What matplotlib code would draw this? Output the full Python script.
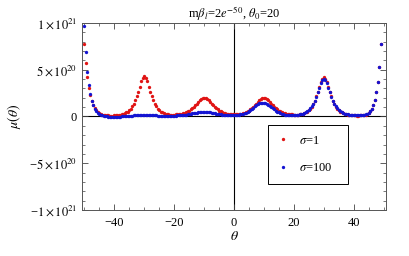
import numpy as np
import matplotlib
matplotlib.use('Agg')
import matplotlib.pyplot as plt
from matplotlib.ticker import FuncFormatter, MultipleLocator

# theta grid, step 0.5 from -50 to 50
theta = np.arange(-50, 50.5, 0.5)

# mu(theta) in units of 1e20
mu_sigma1 = [
    7.8, 5.7, 4.2, 3.05, 2.25, 1.65, 1.2, 0.88, 0.65, 0.48,
    0.36, 0.27, 0.21, 0.17, 0.14, 0.12, 0.11, 0.1, 0.1, 0.1,
    0.12, 0.13, 0.15, 0.17, 0.2, 0.24, 0.29, 0.35, 0.43, 0.53,
    0.67, 0.85, 1.08, 1.37, 1.72, 2.17, 2.67, 3.2, 3.75, 4.15,
    4.3, 4.15, 3.75, 3.2, 2.67, 2.17, 1.72, 1.37, 1.08, 0.85,
    0.67, 0.53, 0.43, 0.36, 0.3, 0.26, 0.23, 0.21, 0.2, 0.2,
    0.21, 0.22, 0.24, 0.26, 0.29, 0.32, 0.36, 0.41, 0.47, 0.55,
    0.64, 0.75, 0.88, 1.03, 1.2, 1.38, 1.57, 1.74, 1.87, 1.96,
    2.0, 1.96, 1.87, 1.74, 1.57, 1.38, 1.2, 1.03, 0.88, 0.75,
    0.64, 0.55, 0.47, 0.41, 0.36, 0.32, 0.29, 0.27, 0.25, 0.24,
    0.24, 0.24, 0.25, 0.27, 0.29, 0.32, 0.36, 0.41, 0.47, 0.55,
    0.64, 0.75, 0.88, 1.03, 1.2, 1.38, 1.57, 1.74, 1.87, 1.96,
    2.0, 1.96, 1.87, 1.74, 1.57, 1.38, 1.2, 1.03, 0.88, 0.75,
    0.64, 0.55, 0.47, 0.41, 0.36, 0.32, 0.29, 0.26, 0.24, 0.22,
    0.21, 0.2, 0.2, 0.21, 0.23, 0.26, 0.3, 0.36, 0.43, 0.53,
    0.66, 0.84, 1.06, 1.35, 1.7, 2.14, 2.63, 3.15, 3.68, 4.06,
    4.2, 4.06, 3.68, 3.15, 2.63, 2.14, 1.7, 1.35, 1.06, 0.84,
    0.66, 0.53, 0.43, 0.35, 0.29, 0.24, 0.2, 0.17, 0.15, 0.13,
    0.12, 0.11, 0.1, 0.1, 0.11, 0.12, 0.14, 0.17, 0.21, 0.3,
    0.42, 0.6, 0.85, 1.25, 1.8, 2.6, 3.7, 5.3, 7.8, 11.0,
    16.0,
]

mu_sigma100 = [
    9.7, 6.9, 4.8, 3.4, 2.4, 1.7, 1.2, 0.85, 0.6, 0.42,
    0.3, 0.2, 0.13, 0.08, 0.04, 0.01, -0.02, -0.04, -0.05, -0.05,
    -0.05, -0.04, -0.03, -0.02, -0.01, 0.0, 0.01, 0.02, 0.03, 0.05,
    0.06, 0.08, 0.09, 0.11, 0.12, 0.14, 0.15, 0.16, 0.17, 0.18,
    0.18, 0.18, 0.17, 0.16, 0.15, 0.14, 0.13, 0.12, 0.11, 0.1,
    0.09, 0.08, 0.08, 0.07, 0.07, 0.07, 0.07, 0.07, 0.08, 0.08,
    0.09, 0.1, 0.11, 0.12, 0.13, 0.15, 0.17, 0.19, 0.21, 0.24,
    0.27, 0.3, 0.33, 0.36, 0.39, 0.42, 0.45, 0.47, 0.49, 0.5,
    0.5, 0.5, 0.49, 0.47, 0.45, 0.42, 0.39, 0.36, 0.32, 0.28,
    0.25, 0.22, 0.19, 0.17, 0.15, 0.14, 0.13, 0.13, 0.13, 0.14,
    0.15, 0.16, 0.18, 0.2, 0.23, 0.26, 0.3, 0.35, 0.41, 0.49,
    0.58, 0.68, 0.8, 0.94, 1.07, 1.2, 1.31, 1.39, 1.44, 1.46,
    1.45, 1.43, 1.37, 1.28, 1.17, 1.04, 0.9, 0.77, 0.64, 0.53,
    0.44, 0.36, 0.3, 0.25, 0.21, 0.18, 0.16, 0.15, 0.14, 0.14,
    0.14, 0.15, 0.17, 0.19, 0.22, 0.26, 0.31, 0.38, 0.46, 0.57,
    0.7, 0.87, 1.08, 1.35, 1.7, 2.12, 2.6, 3.1, 3.6, 3.95,
    4.05, 3.95, 3.6, 3.1, 2.6, 2.12, 1.7, 1.35, 1.08, 0.87,
    0.7, 0.57, 0.46, 0.38, 0.31, 0.26, 0.22, 0.19, 0.17, 0.15,
    0.14, 0.13, 0.12, 0.12, 0.12, 0.13, 0.15, 0.18, 0.22, 0.3,
    0.42, 0.6, 0.85, 1.25, 1.8, 2.6, 3.7, 5.3, 7.8, 11.0,
    16.0,
]

scale = 1e20
red = '#e01414'
blue = '#1414d2'

plt.rcParams['font.family'] = ['Liberation Serif', 'DejaVu Serif']
plt.rcParams['mathtext.fontset'] = 'stix'

fig = plt.figure(figsize=(4.09, 2.56), dpi=100)
ax = fig.add_axes([0.2005, 0.1797, 0.7433, 0.7305])

ax.plot(theta, np.array(mu_sigma1) * scale, 'o', color=red, ms=2.4, mew=0, label=r'$\sigma$=1')
ax.plot(theta, np.array(mu_sigma100) * scale, 'o', color=blue, ms=2.4, mew=0, label=r'$\sigma$=100')

ax.axhline(0, color='black', lw=0.8, zorder=0)
ax.axvline(0, color='black', lw=0.8, zorder=0)

ax.set_xlim(-50.7, 50.7)
ax.set_ylim(-1e21, 1e21)

ax.xaxis.set_major_locator(MultipleLocator(20))
ax.xaxis.set_minor_locator(MultipleLocator(5))
ax.yaxis.set_major_locator(MultipleLocator(5e20))
ax.yaxis.set_minor_locator(MultipleLocator(1e20))


def xfmt(v, pos):
    return f'{v:.0f}'.replace('-', '\u2212')


def yfmt(v, pos):
    if abs(v) < 1:
        return '0'
    e = int(np.floor(np.log10(abs(v)) + 1e-9))
    m = v / 10 ** e
    sign = '\u2212' if m < 0 else ''
    return sign + r'$%d\times10^{%d}$' % (abs(round(m)), e)


ax.xaxis.set_major_formatter(FuncFormatter(xfmt))
ax.yaxis.set_major_formatter(FuncFormatter(yfmt))

ax.tick_params(which='both', direction='in', top=True, right=True, labelsize=9, colors='#444444', labelcolor='black')
ax.tick_params(which='major', length=4, width=0.6)
ax.tick_params(which='minor', length=2, width=0.5)
ax.tick_params(axis='x', pad=5)
for s in ax.spines.values():
    s.set_color('#555555')
    s.set_linewidth(0.7)

ax.set_title(r'm$\beta_l$=2$e^{-50}$, $\theta_0$=20', fontsize=9, pad=3)
ax.set_xlabel(r'$\theta$', fontsize=10, labelpad=1)
ax.set_ylabel(r'$\mu(\theta)$', fontsize=10, labelpad=4)

leg = ax.legend(loc='lower left', bbox_to_anchor=(0.612, 0.139, 0.263, 0.321), mode='expand',
                borderaxespad=0, fancybox=False, edgecolor='black', framealpha=1,
                fontsize=9, labelspacing=1.25, handlelength=0.8, handletextpad=0.9,
                borderpad=0.78, markerscale=1.0)
leg.get_frame().set_linewidth(0.7)

fig.savefig('out.png', dpi=100)
